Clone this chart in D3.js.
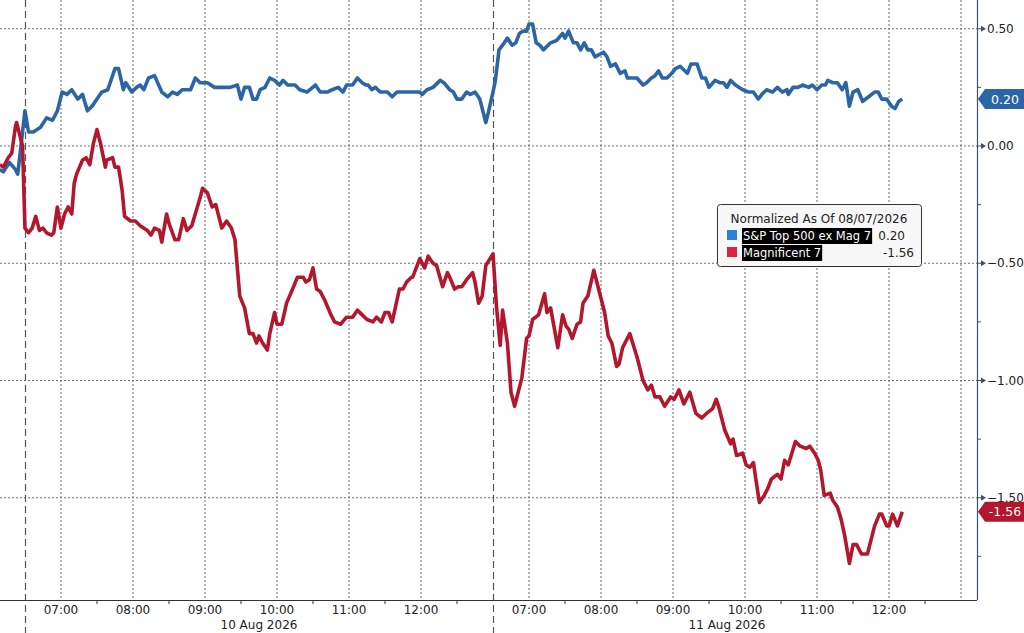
<!DOCTYPE html>
<html>
<head>
  <meta charset="utf-8">
  <title>S&amp;P Top 500 ex Mag 7 vs Magnificent 7</title>
  <script src="https://cdn.jsdelivr.net/npm/d3@7"></script>
  <style>
    body { margin: 0; background: #fff; }
    text { font-family: "DejaVu Sans", Verdana, sans-serif; }
  </style>
</head>
<body>
  <script type="text/javascript">
    // minutes from 06:30 on 10 Aug (negative = prior session), normalized % change
    var spxMin = [-21, -18, -13, -8, -6, 0, 3, 7, 13, 18, 23, 27, 31, 35, 39, 44, 48, 52, 56, 60,
      64, 69, 75, 78, 82, 84, 89, 93, 96, 99, 103, 108, 114, 119, 123, 127, 131, 138, 142, 146,
      152, 158, 165, 171, 177, 180, 183, 187, 190, 193, 196, 200, 204, 208, 212, 215, 219, 225, 229, 235,
      242, 246, 252, 256, 261, 265, 268, 273, 277, 281, 284, 286, 289, 292, 296, 302, 306, 310, 317, 321,
      325, 329, 331, 335, 340, 346, 349, 354, 357, 360, 364, 368, 371, 375, 379, 384, 386, 390, 392, 395,
      398, 402, 406, 409, 412, 415, 418, 420, 423, 426, 429, 432, 438, 443, 448, 450, 453, 457, 460, 463,
      466, 469, 472, 475, 482, 485, 488, 492, 496, 500, 502, 507, 510, 515, 518, 522, 525, 528, 531, 535,
      539, 542, 546, 550, 552, 555, 558, 560, 564, 567, 570, 575, 579, 582, 585, 588, 592, 598, 603, 607,
      611, 614, 618, 623, 627, 631, 635, 636, 640, 644, 648, 653, 656, 660, 664, 667, 669, 673, 677, 681,
      684, 687, 690, 694, 698, 703, 708, 711, 714, 718, 722, 725, 728, 731];
    var spxVal = [-0.10, -0.11, -0.07, -0.10, -0.12, 0.15, 0.06, 0.06, 0.08, 0.12, 0.11, 0.15, 0.23, 0.22, 0.24, 0.20, 0.22, 0.15, 0.17, 0.20,
      0.23, 0.24, 0.33, 0.33, 0.24, 0.27, 0.23, 0.25, 0.26, 0.24, 0.29, 0.30, 0.23, 0.21, 0.23, 0.22, 0.24, 0.24, 0.29, 0.27,
      0.27, 0.25, 0.25, 0.25, 0.26, 0.20, 0.25, 0.25, 0.20, 0.20, 0.24, 0.25, 0.29, 0.28, 0.26, 0.28, 0.26, 0.26, 0.24, 0.23,
      0.26, 0.23, 0.23, 0.24, 0.25, 0.23, 0.26, 0.26, 0.29, 0.27, 0.26, 0.26, 0.24, 0.25, 0.23, 0.23, 0.21, 0.23, 0.23, 0.23,
      0.23, 0.23, 0.22, 0.24, 0.25, 0.28, 0.27, 0.24, 0.23, 0.20, 0.20, 0.23, 0.22, 0.23, 0.20, 0.10, 0.14, 0.23, 0.28, 0.41,
      0.43, 0.46, 0.43, 0.44, 0.48, 0.49, 0.49, 0.52, 0.52, 0.44, 0.43, 0.41, 0.44, 0.45, 0.48, 0.46, 0.49, 0.44, 0.44, 0.41,
      0.44, 0.41, 0.41, 0.38, 0.40, 0.38, 0.34, 0.35, 0.31, 0.32, 0.29, 0.29, 0.29, 0.26, 0.27, 0.29, 0.30, 0.32, 0.29, 0.29,
      0.31, 0.33, 0.34, 0.32, 0.31, 0.35, 0.35, 0.35, 0.29, 0.29, 0.25, 0.28, 0.27, 0.27, 0.25, 0.28, 0.26, 0.24, 0.23, 0.23,
      0.20, 0.22, 0.24, 0.23, 0.25, 0.23, 0.24, 0.22, 0.25, 0.25, 0.26, 0.25, 0.26, 0.24, 0.26, 0.26, 0.28, 0.27, 0.27, 0.24,
      0.27, 0.17, 0.23, 0.24, 0.19, 0.21, 0.23, 0.23, 0.20, 0.20, 0.17, 0.16, 0.19, 0.20];

    var magMin = [-21, -18, -14, -11, -8, -7, -4, -2, 0, 3, 6, 9, 12, 15, 18, 22, 24, 27, 30, 33,
      36, 39, 41, 43, 48, 51, 54, 57, 60, 63, 67, 68, 73, 75, 78, 81, 83, 88, 92, 96,
      102, 105, 108, 112, 114, 118, 120, 125, 128, 132, 135, 139, 146, 148, 152, 156, 159, 164, 168, 172,
      175, 179, 183, 187, 190, 193, 195, 198, 202, 204, 208, 210, 214, 218, 223, 227, 232, 234, 237, 240,
      243, 246, 250, 255, 258, 263, 268, 273, 277, 281, 285, 290, 293, 297, 300, 303, 306, 312, 315, 318,
      322, 323, 329, 333, 336, 340, 343, 348, 352, 354, 358, 361, 364, 368, 373, 375, 378, 381, 384, 390,
      393, 396, 398, 402, 405, 408, 414, 418, 420, 423, 428, 433, 435, 438, 444, 448, 451, 453, 456, 460,
      463, 465, 469, 474, 478, 483, 486, 489, 493, 495, 498, 504, 510, 515, 519, 522, 525, 529, 533, 538,
      541, 545, 549, 554, 559, 564, 568, 573, 576, 578, 583, 588, 590, 593, 598, 601, 604, 607, 609, 612,
      616, 619, 622, 627, 630, 633, 636, 642, 646, 651, 654, 658, 661, 663, 666, 671, 673, 677, 680, 683,
      687, 690, 693, 697, 702, 704, 708, 712, 714, 718, 720, 723, 727, 731];
    var magVal = [-0.08, -0.09, -0.05, -0.03, 0.08, 0.10, 0.04, 0.00, -0.35, -0.37, -0.35, -0.30, -0.36, -0.35, -0.37, -0.38, -0.37, -0.26, -0.35, -0.29,
      -0.26, -0.29, -0.16, -0.12, -0.06, -0.05, -0.08, 0.01, 0.07, 0.01, -0.09, -0.06, -0.05, -0.09, -0.09, -0.19, -0.30, -0.32, -0.32, -0.34,
      -0.36, -0.38, -0.35, -0.36, -0.41, -0.29, -0.33, -0.40, -0.40, -0.31, -0.36, -0.34, -0.22, -0.18, -0.20, -0.26, -0.25, -0.35, -0.32, -0.35,
      -0.40, -0.64, -0.69, -0.80, -0.80, -0.84, -0.81, -0.84, -0.87, -0.80, -0.71, -0.76, -0.76, -0.67, -0.61, -0.56, -0.56, -0.58, -0.57, -0.52,
      -0.61, -0.62, -0.66, -0.72, -0.75, -0.76, -0.73, -0.73, -0.70, -0.72, -0.74, -0.75, -0.73, -0.75, -0.71, -0.71, -0.75, -0.61, -0.61, -0.58,
      -0.56, -0.56, -0.48, -0.52, -0.47, -0.50, -0.51, -0.60, -0.54, -0.56, -0.61, -0.60, -0.60, -0.57, -0.54, -0.58, -0.67, -0.64, -0.51, -0.46,
      -0.69, -0.85, -0.70, -0.84, -1.05, -1.11, -0.99, -0.82, -0.81, -0.74, -0.72, -0.63, -0.71, -0.69, -0.86, -0.72, -0.77, -0.78, -0.82, -0.76,
      -0.75, -0.67, -0.64, -0.53, -0.61, -0.71, -0.81, -0.84, -0.94, -0.93, -0.86, -0.80, -0.90, -1.00, -1.04, -1.02, -1.07, -1.07, -1.11, -1.07,
      -1.08, -1.04, -1.10, -1.05, -1.14, -1.16, -1.14, -1.12, -1.08, -1.11, -1.21, -1.27, -1.25, -1.32, -1.31, -1.36, -1.37, -1.35, -1.42, -1.52,
      -1.49, -1.46, -1.42, -1.40, -1.42, -1.34, -1.36, -1.26, -1.28, -1.29, -1.28, -1.31, -1.34, -1.38, -1.49, -1.48, -1.51, -1.54, -1.59, -1.66,
      -1.78, -1.70, -1.70, -1.74, -1.74, -1.70, -1.62, -1.57, -1.57, -1.62, -1.62, -1.57, -1.62, -1.56];

    var seriesNames = ["S&P Top 500 ex Mag 7", "Magnificent 7"];
    var seriesColors = ["#2c65a5", "#b3172d"];
    var legendTitle = "Normalized As Of 08/07/2026";

    var yTicks = [0.5, 0, -0.5, -1, -1.5];
    var yMinorTicks = [0.25, -0.25, -0.75, -1.25, -1.75];
    var hourMins = [30, 90, 150, 210, 270, 330, 420, 480, 540, 600, 660, 720];
    var hourLabels = ["07:00", "08:00", "09:00", "10:00", "11:00", "12:00",
      "07:00", "08:00", "09:00", "10:00", "11:00", "12:00"];
    var halfHourMins = [60, 120, 180, 240, 300, 360, 450, 510, 570, 630, 690, 750];
    var sessionMins = [0, 390];
    var closeMins = [780];
    var dayLabels = ["10 Aug 2026", "11 Aug 2026"];
    var dayCenters = [195, 585];

    var w = 1024;
    var h = 633;
    var plotR = 977;
    var plotB = 600;

    var x = d3.scaleLinear().domain([-20.8, 793.3]).range([0, plotR]);
    var y = d3.scaleLinear().domain([-1.936, 0.6226]).range([plotB, 0]);

    var svg = d3.select("body").append("svg")
      .attr("width", w)
      .attr("height", h);

    // horizontal grid
    svg.append("g").selectAll("line")
      .data(yTicks)
      .enter().append("line")
      .attr("x1", 0).attr("x2", plotR)
      .attr("y1", function(d) { return y(d); })
      .attr("y2", function(d) { return y(d); })
      .attr("stroke", "#6a6a6a")
      .attr("stroke-width", 1)
      .attr("stroke-dasharray", "2,2");

    // vertical hour grid
    svg.append("g").selectAll("line")
      .data(hourMins.concat(closeMins))
      .enter().append("line")
      .attr("x1", function(d) { return x(d); })
      .attr("x2", function(d) { return x(d); })
      .attr("y1", 0).attr("y2", plotB)
      .attr("stroke", "#6a6a6a")
      .attr("stroke-width", 1)
      .attr("stroke-dasharray", "2,2");

    // session separators
    svg.append("g").selectAll("line")
      .data(sessionMins)
      .enter().append("line")
      .attr("x1", function(d) { return Math.round(x(d)) + 0.5; })
      .attr("x2", function(d) { return Math.round(x(d)) + 0.5; })
      .attr("y1", 0).attr("y2", h)
      .attr("stroke", "#555")
      .attr("stroke-width", 1.2)
      .attr("stroke-dasharray", "7,4");

    // bottom axis
    svg.append("line")
      .attr("x1", 0).attr("x2", plotR)
      .attr("y1", plotB + 0.5).attr("y2", plotB + 0.5)
      .attr("stroke", "#333").attr("stroke-width", 1.2);

    svg.append("g").selectAll("line")
      .data(halfHourMins)
      .enter().append("line")
      .attr("x1", function(d) { return x(d); })
      .attr("x2", function(d) { return x(d); })
      .attr("y1", plotB).attr("y2", plotB + 4)
      .attr("stroke", "#333");

    svg.append("g").selectAll("text")
      .data(hourMins)
      .enter().append("text")
      .attr("x", function(d) { return x(d); })
      .attr("y", plotB + 14)
      .attr("text-anchor", "middle")
      .attr("font-size", 12)
      .attr("fill", "#222")
      .text(function(d, i) { return hourLabels[i]; });

    svg.append("g").selectAll("text")
      .data(dayCenters)
      .enter().append("text")
      .attr("x", function(d) { return x(d); })
      .attr("y", plotB + 29)
      .attr("text-anchor", "middle")
      .attr("font-size", 12)
      .attr("fill", "#222")
      .text(function(d, i) { return dayLabels[i]; });

    // right axis
    svg.append("line")
      .attr("x1", plotR + 0.5).attr("x2", plotR + 0.5)
      .attr("y1", 0).attr("y2", plotB)
      .attr("stroke", "#3d5268").attr("stroke-width", 1.2);

    svg.append("g").selectAll("line")
      .data(yMinorTicks)
      .enter().append("line")
      .attr("x1", plotR).attr("x2", plotR + 4)
      .attr("y1", function(d) { return y(d); })
      .attr("y2", function(d) { return y(d); })
      .attr("stroke", "#3d5268");

    var yTickG = svg.append("g").selectAll("g")
      .data(yTicks)
      .enter().append("g")
      .attr("transform", function(d) { return "translate(" + plotR + "," + y(d) + ")"; });
    yTickG.append("line")
      .attr("x1", 0).attr("x2", 5)
      .attr("stroke", "#3d5268");
    yTickG.append("path")
      .attr("d", "M4,-3L9,0L4,3Z")
      .attr("fill", "#3d5268");
    yTickG.append("text")
      .attr("x", 10).attr("y", 4)
      .attr("font-size", 12)
      .attr("fill", "#222")
      .text(function(d) { return d3.format(".2f")(d); });

    // lines
    var line = d3.line()
      .x(function(d) { return x(d[0]); })
      .y(function(d) { return y(d[1]); });

    var spx = d3.zip(spxMin, spxVal);
    var mag = d3.zip(magMin, magVal);

    svg.append("path")
      .datum(spx)
      .attr("d", line)
      .attr("fill", "none")
      .attr("stroke", seriesColors[0])
      .attr("stroke-width", 3.6)
      .attr("stroke-linejoin", "round");

    svg.append("path")
      .datum(mag)
      .attr("d", line)
      .attr("fill", "none")
      .attr("stroke", seriesColors[1])
      .attr("stroke-width", 3.6)
      .attr("stroke-linejoin", "round");

    // last value tags
    var lastVals = [spxVal[spxVal.length - 1], magVal[magVal.length - 1]];
    var tags = svg.append("g").selectAll("g")
      .data(lastVals)
      .enter().append("g")
      .attr("transform", function(d) { return "translate(" + (plotR + 1) + "," + y(d) + ")"; });
    tags.append("path")
      .attr("d", "M0,0L7,-10L47,-10L47,10L7,10Z")
      .attr("fill", function(d, i) { return seriesColors[i]; });
    tags.append("text")
      .attr("x", 27).attr("y", 4.5)
      .attr("text-anchor", "middle")
      .attr("font-size", 12.5)
      .attr("fill", "#fff")
      .text(function(d) { return d3.format(".2f")(d).replace("−", "-"); });

    // legend
    var lg = svg.append("g").attr("transform", "translate(717,204)");
    lg.append("rect")
      .attr("x", 0.5).attr("y", 0.5)
      .attr("width", 204).attr("height", 62)
      .attr("rx", 3)
      .attr("fill", "#f7f7f7")
      .attr("stroke", "#333");
    lg.append("text")
      .attr("x", 102).attr("y", 19)
      .attr("text-anchor", "middle")
      .attr("font-size", 12)
      .attr("fill", "#222")
      .text(legendTitle);

    var rowY = [32, 49];
    var valRight = [188, 197];
    seriesNames.forEach(function(name, i) {
      lg.append("rect")
        .attr("x", 10).attr("y", rowY[i] - 6)
        .attr("width", 10).attr("height", 10)
        .attr("fill", i === 0 ? "#2f7fd6" : "#d9253f");
      var t = lg.append("text")
        .attr("x", 26).attr("y", rowY[i] + 4)
        .attr("font-size", 11.5)
        .attr("fill", "#fff")
        .text(name);
      var bb = t.node().getBBox();
      lg.insert("rect", function() { return t.node(); })
        .attr("x", bb.x - 1).attr("y", rowY[i] - 8)
        .attr("width", bb.width + 2).attr("height", 16)
        .attr("fill", "#000");
      lg.append("text")
        .attr("x", valRight[i]).attr("y", rowY[i] + 4)
        .attr("text-anchor", "end")
        .attr("font-size", 12)
        .attr("fill", "#222")
        .text(d3.format(".2f")(lastVals[i]).replace("−", "-"));
    });
  </script>
</body>
</html>
